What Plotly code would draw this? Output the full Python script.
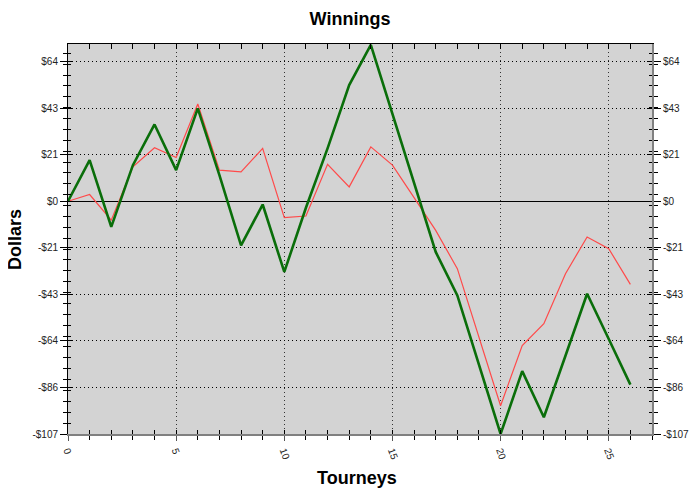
import plotly.graph_objects as go

tourneys = list(range(27))
green_vals = [0, 18.9, -11.8, 16.6, 35.3, 14.3, 42.7, 12.0, -20.3, -1.5, -32.5, -3.0, 24.3,
              53.4, 71.9, 40.4, 8.8, -23.3, -43.3, -75.7, -107.0, -78.1, -99.3, -71.0,
              -42.5, -63.3, -84.3]
red_vals = [0, 3.1, -8.7, 15.8, 24.6, 20.1, 44.7, 14.3, 13.5, 24.3, -7.5, -6.8, 17.0,
            6.6, 25.0, 16.6, 1.7, -13.4, -31.0, -62.5, -94.0, -66.3, -56.3, -33.3,
            -16.4, -21.8, -38.2]
y_tick_vals = [-107, -85.6, -64.2, -42.8, -21.4, 0, 21.4, 42.8, 64.2]
y_tick_text = ["-$107", "-$86", "-$64", "-$43", "-$21", "$0", "$21", "$43", "$64"]
x_tick_vals = [0, 5, 10, 15, 20, 25]
x_tick_text = ["0", "5", "10", "15", "20", "25"]

YR = [-107, 72.3]
XR = [0, 27]
FONT = "Liberation Sans, Arial, sans-serif"
DOT = "1px,3px"
OFF = 8  # page body margin offset

fig = go.Figure()
fig.add_trace(go.Scatter(x=tourneys, y=red_vals, mode="lines",
                         line=dict(color="#ff4a4a", width=1.2), showlegend=False))
fig.add_trace(go.Scatter(x=tourneys, y=green_vals, mode="lines",
                         line=dict(color="#0a6e0a", width=2.6), showlegend=False))
# helper invisible traces for overlay axes
for xa, ya in [("x2", "y3"), ("x3", "y2"), ("x", "y4")]:
    fig.add_trace(go.Scatter(x=[0], y=[0], xaxis=xa, yaxis=ya, mode="markers",
                             marker=dict(opacity=0), hoverinfo="skip", showlegend=False))

minor_y = dict(dtick=5, tick0=3, ticks="outside", ticklen=4, tickcolor="#000", showgrid=False)
minor_y_in = dict(dtick=5, tick0=3, ticks="inside", ticklen=3, tickcolor="#000", showgrid=False)

L, R, T, B = 68 - OFF, 48 + OFF, 44 - OFF, 58 + OFF
W, H = 700, 492
pw, ph = W - L - R, H - T - B

fig.update_layout(
    width=W, height=H,
    margin=dict(l=L, r=R, t=T, b=B),
    paper_bgcolor="white", plot_bgcolor="#d3d3d3",
    title=dict(text="<b>Winnings</b>", x=(350 - OFF) / W, xanchor="center",
               y=1 - (19 - OFF) / H, yanchor="middle",
               font=dict(family=FONT, size=18, color="black")),
    font=dict(family=FONT, size=10, color="black"),
    xaxis=dict(range=XR, tickvals=x_tick_vals, ticktext=x_tick_text, tickangle=70,
               ticks="outside", ticklen=5, tickcolor="#555", tickwidth=1,
               minor=dict(dtick=1, ticks="outside", ticklen=4, tickcolor="#000", showgrid=False),
               showline=True, linecolor="#808080", linewidth=2, automargin=False,
               showgrid=True, gridcolor="#333", griddash=DOT, gridwidth=1,
               zeroline=False, tickfont=dict(size=10, color="#222")),
    xaxis2=dict(range=XR, overlaying="x", side="bottom", anchor="y", dtick=1, tick0=0,
                ticks="inside", ticklen=4, tickcolor="#000", showticklabels=False,
                showline=False, showgrid=False, zeroline=False, automargin=False),
    xaxis3=dict(range=XR, overlaying="x", side="top", anchor="y", dtick=1, tick0=0,
                ticks="inside", ticklen=5, tickcolor="#000", showticklabels=False,
                showline=True, linecolor="#000", linewidth=1, showgrid=False, zeroline=False,
                automargin=False),
    yaxis=dict(range=YR, tickvals=y_tick_vals, ticktext=y_tick_text,
               ticks="outside", ticklen=7, tickcolor="#000",
               minor=minor_y, automargin=False,
               showline=True, linecolor="#000", linewidth=1,
               showgrid=True, gridcolor="#000", griddash=DOT, gridwidth=1,
               zeroline=True, zerolinecolor="#000", zerolinewidth=1,
               tickfont=dict(size=10, color="#222")),
    yaxis2=dict(range=YR, overlaying="y", side="right", anchor="x", tickvals=y_tick_vals,
                ticktext=y_tick_text, ticks="outside", ticklen=7, tickcolor="#000",
                minor=minor_y, showline=True, linecolor="#808080", linewidth=2,
                showgrid=False, zeroline=False, tickfont=dict(size=10, color="#222"),
                automargin=False),
    yaxis3=dict(range=YR, overlaying="y", side="left", anchor="x", tickvals=y_tick_vals,
                ticks="inside", ticklen=5, tickcolor="#000", showticklabels=False,
                minor=minor_y_in, showline=False, showgrid=False, zeroline=False,
                automargin=False),
    yaxis4=dict(range=YR, overlaying="y", side="right", anchor="x", tickvals=y_tick_vals,
                ticks="inside", ticklen=5, tickcolor="#000", showticklabels=False,
                minor=minor_y_in, showline=False, showgrid=False, zeroline=False,
                automargin=False),
    annotations=[
        dict(text="<b>Tourneys</b>", xref="paper", yref="paper",
             x=(357 - 68) / pw, y=(492 - 58 - 478) / ph,
             showarrow=False, font=dict(size=18, family=FONT, color="black"),
             xanchor="center", yanchor="middle"),
        dict(text="<b>Dollars</b>", xref="paper", yref="paper",
             x=(15 - 68) / pw, y=(492 - 58 - 240) / ph,
             showarrow=False, textangle=-90,
             font=dict(size=18, family=FONT, color="black"), xanchor="center",
             yanchor="middle"),
    ],
)

fig.write_html("out.html")
